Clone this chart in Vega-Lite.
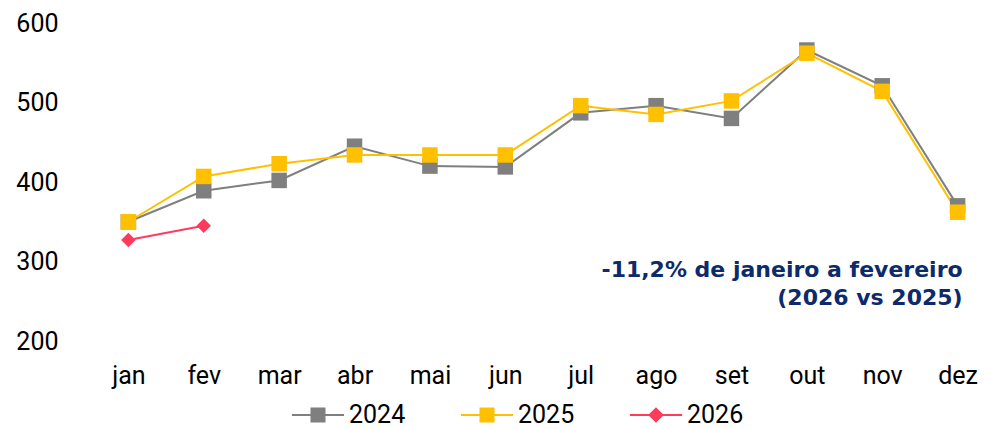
{
  "$schema": "https://vega.github.io/schema/vega-lite/v6.json",
  "autosize": {"type": "none"},
  "width": 882,
  "height": 318,
  "padding": {"left": 102, "top": 23, "right": 1, "bottom": 88},
  "config": {
    "view": {"stroke": null},
    "font": "Roboto",
    "axis": {"labelFont": "Roboto", "labelColor": "#000000", "labelFontSize": 25, "domain": false, "ticks": false, "grid": false, "title": null}
  },
  "datasets": {
    "serie": [
      {"mes": "jan", "ano": "2024", "valor": 350},
      {"mes": "fev", "ano": "2024", "valor": 389},
      {"mes": "mar", "ano": "2024", "valor": 402},
      {"mes": "abr", "ano": "2024", "valor": 445},
      {"mes": "mai", "ano": "2024", "valor": 420},
      {"mes": "jun", "ano": "2024", "valor": 419},
      {"mes": "jul", "ano": "2024", "valor": 487},
      {"mes": "ago", "ano": "2024", "valor": 496},
      {"mes": "set", "ano": "2024", "valor": 480},
      {"mes": "out", "ano": "2024", "valor": 566},
      {"mes": "nov", "ano": "2024", "valor": 521},
      {"mes": "dez", "ano": "2024", "valor": 370},
      {"mes": "jan", "ano": "2025", "valor": 350},
      {"mes": "fev", "ano": "2025", "valor": 407},
      {"mes": "mar", "ano": "2025", "valor": 423},
      {"mes": "abr", "ano": "2025", "valor": 434},
      {"mes": "mai", "ano": "2025", "valor": 434},
      {"mes": "jun", "ano": "2025", "valor": 434},
      {"mes": "jul", "ano": "2025", "valor": 496},
      {"mes": "ago", "ano": "2025", "valor": 485},
      {"mes": "set", "ano": "2025", "valor": 502},
      {"mes": "out", "ano": "2025", "valor": 562},
      {"mes": "nov", "ano": "2025", "valor": 514},
      {"mes": "dez", "ano": "2025", "valor": 362},
      {"mes": "jan", "ano": "2026", "valor": 327},
      {"mes": "fev", "ano": "2026", "valor": 345}
    ],
    "nota": [
      {"mes": "dez", "valor": 289, "texto": "-11,2% de janeiro a fevereiro"},
      {"mes": "dez", "valor": 254, "texto": "(2026 vs 2025)"}
    ]
  },
  "encoding": {
    "x": {
      "field": "mes", "type": "ordinal",
      "scale": {"type": "point", "padding": 0.35, "domain": ["jan","fev","mar","abr","mai","jun","jul","ago","set","out","nov","dez"]},
      "axis": {"labelAngle": 0, "labelPadding": 22, "orient": "bottom"}
    },
    "y": {
      "field": "valor", "type": "quantitative",
      "scale": {"domain": [200, 600], "nice": false, "zero": false},
      "axis": {"values": [200, 300, 400, 500, 600], "labelPadding": 44}
    }
  },
  "layer": [
    {
      "data": {"name": "serie"},
      "mark": {"type": "line", "strokeWidth": 2},
      "encoding": {
        "color": {"field": "ano", "type": "nominal", "scale": {"domain": ["2024","2025","2026"], "range": ["#7F7F7F", "#FFC000", "#FF3B5C"]}},
        "order": {"field": "ano"}
      }
    },
    {
      "data": {"name": "serie"},
      "transform": [{"filter": "datum.ano !== '2026'"}],
      "mark": {"type": "point", "shape": "square", "filled": true, "opacity": 1, "strokeWidth": 0, "size": 240},
      "encoding": {
        "color": {"field": "ano", "type": "nominal"},
        "order": {"field": "ano"}
      }
    },
    {
      "data": {"name": "serie"},
      "transform": [{"filter": "datum.ano === '2026'"}],
      "mark": {"type": "point", "shape": "diamond", "filled": true, "opacity": 1, "strokeWidth": 0, "size": 210},
      "encoding": {
        "color": {"field": "ano", "type": "nominal"}
      }
    },
    {
      "data": {"name": "serie"},
      "mark": {"type": "point", "filled": true, "opacity": 1, "strokeWidth": 0, "size": 0},
      "encoding": {
        "color": {
          "field": "ano", "type": "nominal",
          "legend": {
            "title": null,
            "orient": "none",
            "direction": "horizontal",
            "legendX": 202,
            "legendY": 378,
            "labelFont": "Roboto",
            "labelFontSize": 25,
            "labelColor": "#000000",
            "labelOffset": 17,
            "columnPadding": 54,
            "symbolSize": 784,
            "symbolOpacity": 1,
            "symbolStrokeWidth": 0
          }
        },
        "shape": {
          "field": "ano", "type": "nominal",
          "scale": {"domain": ["2024","2025","2026"], "range": [
            "M-1.86,-0.071H1.86V0.071H-1.86ZM-0.536,-0.536H0.536V0.536H-0.536Z",
            "M-1.86,-0.071H1.86V0.071H-1.86ZM-0.536,-0.536H0.536V0.536H-0.536Z",
            "M-1.86,-0.071H1.86V0.071H-1.86ZM0,-0.56L0.56,0L0,0.56L-0.56,0Z"
          ]}
        }
      }
    },
    {
      "data": {"name": "nota"},
      "mark": {"type": "text", "align": "right", "baseline": "middle", "dx": 5, "font": "DejaVu Sans", "fontWeight": "bold", "fontSize": 22, "color": "#0D2A6B"},
      "encoding": {
        "text": {"field": "texto"}
      }
    }
  ]
}
